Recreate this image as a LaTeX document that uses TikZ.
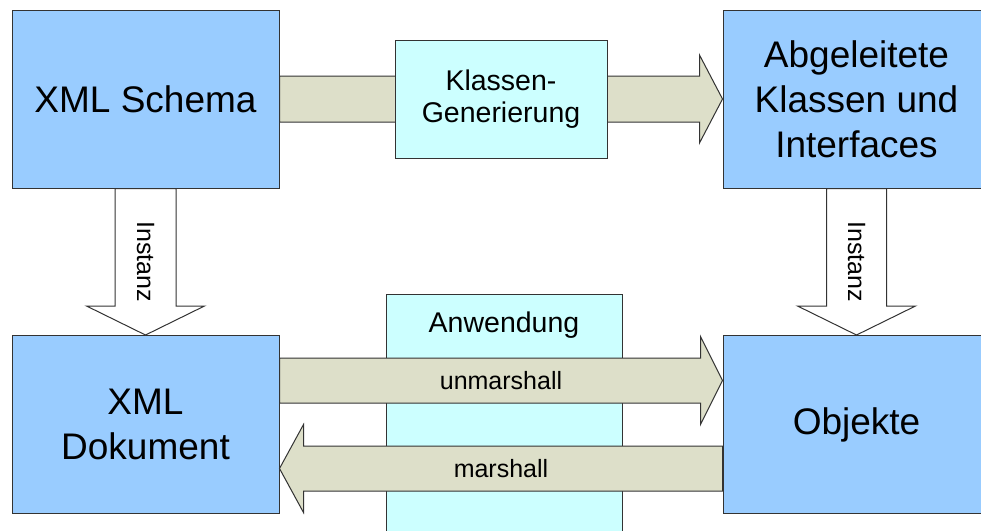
\documentclass[tikz,border=0pt]{standalone}
\usepackage{fontspec}
\setmainfont{Liberation Sans}
\usetikzlibrary{calc}

\definecolor{boxblue}{HTML}{99CCFF}
\definecolor{boxcyan}{HTML}{CCFFFF}
\definecolor{flowfill}{HTML}{DDDFC9}
\definecolor{edge}{HTML}{333333}

\tikzset{
  mainbox/.style={draw=edge, line width=1pt, fill=boxblue, minimum width=267pt,
    minimum height=178pt, align=center, font=\fontsize{37}{45}\selectfont},
  toolbox/.style={draw=edge, line width=1pt, fill=boxcyan, align=center,
    font=\fontsize{28.5}{32}\selectfont},
  blockarrow/.style args={#1/#2/#3}{draw=edge, line width=1pt, line join=miter,
    to path={($(\tikztotarget)!#3!(\tikztostart)$) coordinate (hb)
      ($(\tikztostart)!#1!90:(\tikztotarget)$)
      -- ($(hb)!#1!90:(\tikztotarget)$) -- ($(hb)!#2!90:(\tikztotarget)$)
      -- (\tikztotarget)
      -- ($(hb)!#2!-90:(\tikztotarget)$) -- ($(hb)!#1!-90:(\tikztotarget)$)
      -- ($(\tikztostart)!#1!-90:(\tikztotarget)$) -- cycle}},
  flow/.style args={#1/#2/#3}{fill=flowfill, blockarrow={#1/#2/#3}},
  instanz/.style args={#1/#2/#3}{fill=white, blockarrow={#1/#2/#3}},
  small/.style={font=\fontsize{25}{28}\selectfont}
}

\begin{document}
\begin{tikzpicture}[x=1pt, y=-1pt]
  \useasboundingbox (0,0) rectangle (981,530);
  \clip (0,0) rectangle (981,530);

  % Hauptkaesten
  \node[mainbox] (schema) at (145.5,99) {XML Schema};
  \node[mainbox] (derived) at (856.5,99) {Abgeleitete\\Klassen und\\Interfaces};
  \node[mainbox] (doc) at (145.5,424.5) {XML\\Dokument};
  \node[mainbox] (obj) at (856.5,424.5) {Objekte};

  % Klassen-Generierung
  \draw[flow={23pt/44pt/23pt}] (schema.east) to (derived.west);
  \node[toolbox, minimum width=212pt, minimum height=118pt] (gen)
    at ($(schema.east)!0.5!(derived.west)$) {Klassen-\\Generierung};

  % Instanz
  \draw[instanz={30.5pt/59pt/29pt}] (schema.south) to (doc.north);
  \draw[instanz={30pt/59pt/29pt}] (derived.south) to (obj.north);
  \node[small, rotate=-90] (inst-l) at ($(schema.south)!0.5!(doc.north)$) {Instanz};
  \node[small, rotate=-90] (inst-r) at ($(derived.south)!0.5!(obj.north)$) {Instanz};

  % Anwendung
  \node[toolbox, minimum width=236pt, minimum height=260pt] (app) at (504,424) {};
  \node[font=\fontsize{28.5}{32}\selectfont, anchor=base] (app-label)
    at ([yshift=-39pt]app.north) {Anwendung};

  % unmarshall / marshall
  \coordinate (um-a) at ([yshift=44pt]doc.east);
  \coordinate (um-b) at ([yshift=44pt]obj.west);
  \coordinate (m-a) at ([yshift=-44pt]obj.west);
  \coordinate (m-b) at ([yshift=-44pt]doc.east);
  \draw[flow={22.5pt/44pt/22pt}] (um-a) to (um-b);
  \draw[flow={22.5pt/44pt/24pt}] (m-a) to (m-b);
  \node[small] (um-label) at ($(um-a)!0.5!(um-b)$) {unmarshall};
  \node[small] (m-label) at ($(m-a)!0.5!(m-b)$) {marshall};
\end{tikzpicture}
\end{document}
